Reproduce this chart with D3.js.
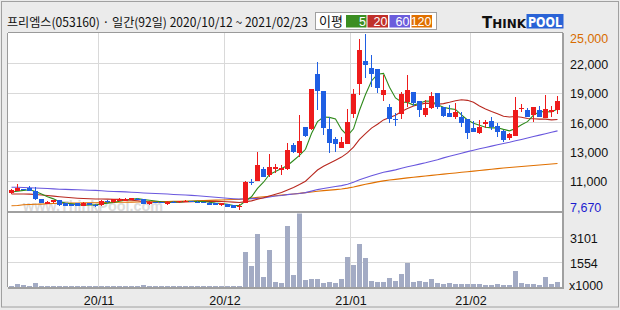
<!DOCTYPE html>
<html><head><meta charset="utf-8">
<script src="https://cdn.jsdelivr.net/npm/d3@7"></script>
<style>body{margin:0;background:#fff}svg{display:block}</style>
</head><body>
<svg id="c" width="620" height="310"></svg>
<script>
const dates = [
"2020-10-12","2020-10-13","2020-10-14","2020-10-15","2020-10-16","2020-10-19","2020-10-20","2020-10-21","2020-10-22","2020-10-23","2020-10-26","2020-10-27","2020-10-28","2020-10-29","2020-10-30",
"2020-11-02","2020-11-03","2020-11-04","2020-11-05","2020-11-06","2020-11-09","2020-11-10","2020-11-11","2020-11-12","2020-11-13","2020-11-16","2020-11-17","2020-11-18","2020-11-19","2020-11-20","2020-11-23","2020-11-24","2020-11-25","2020-11-26","2020-11-27","2020-11-30",
"2020-12-01","2020-12-02","2020-12-03","2020-12-04","2020-12-07","2020-12-08","2020-12-09","2020-12-10","2020-12-11","2020-12-14","2020-12-15","2020-12-16","2020-12-17","2020-12-18","2020-12-21","2020-12-22","2020-12-23","2020-12-24","2020-12-28","2020-12-29","2020-12-30",
"2021-01-04","2021-01-05","2021-01-06","2021-01-07","2021-01-08","2021-01-11","2021-01-12","2021-01-13","2021-01-14","2021-01-15","2021-01-18","2021-01-19","2021-01-20","2021-01-21","2021-01-22","2021-01-25","2021-01-26","2021-01-27","2021-01-28","2021-01-29",
"2021-02-01","2021-02-02","2021-02-03","2021-02-04","2021-02-05","2021-02-08","2021-02-09","2021-02-10","2021-02-15","2021-02-16","2021-02-17","2021-02-18","2021-02-19","2021-02-22","2021-02-23"];

const open  = [9310,9573,9720,9803,9573,8753,8260,8425,8654,8326,8260,8326,8064,8360,8140,8129,8589,8425,8589,8600,8654,8800,8720,8228,8430,8420,8228,8500,8425,8580,8560,8500,8450,8392,8326,8129,8228,8162,8030,8390,10440,10555,11706,11116,11676,11608,11706,14070,13300,15810,15616,21061,19417,15645,14631,13745,14168,17122,20077,22341,21622,21524,18993,17782,16660,17122,18337,19260,18403,17024,17746,19160,17844,17250,16859,16859,16600,15711,15219,16167,16433,15941,15449,14792,14988,17730,17516,17024,17516,16760,17290,17516];
const high  = [9700,10230,9770,10033,9900,8786,8520,8700,8690,8360,8300,8350,8420,8400,8260,8620,8620,8750,8820,8820,8880,8880,8760,8520,8490,8480,8520,8560,8600,8640,8600,8560,8500,8430,8360,8360,8260,8200,8260,10500,10700,13410,11874,13184,12199,12100,14238,14238,17024,15843,19584,22272,19417,16859,14828,14888,17585,19584,24508,25000,22932,21524,20963,18108,17191,19260,20963,19260,18403,18501,19318,19160,17844,18010,18239,17290,16600,16433,16532,16532,16800,16207,15547,15281,18826,18076,17680,17782,17910,18993,17940,18925];
const low   = [9280,9540,9640,9540,8700,8360,8230,8400,8100,8064,8030,8030,8040,8150,7932,8100,8400,8400,8560,8580,8620,8720,8230,8200,8380,8370,8200,8450,8400,8540,8450,8420,8380,8130,8170,8100,7970,7860,7670,8330,10100,10500,10890,10948,11283,11116,11608,13312,12900,14888,15500,17516,15055,13312,13410,13745,14168,16700,18993,20638,19810,19220,18403,16266,15941,16630,17782,17940,16800,16800,17615,17615,16859,16859,16600,15872,14660,15380,15153,15711,15547,14828,14398,14562,14988,17290,16800,16366,16800,16700,16859,17122];
const close = [9639,9869,9690,9573,8720,8392,8490,8654,8129,8100,8064,8064,8392,8200,8129,8589,8425,8720,8786,8786,8851,8780,8260,8490,8410,8400,8490,8480,8560,8600,8500,8450,8420,8162,8200,8326,7998,7900,8100,10456,10420,12100,10948,11938,11938,11840,13578,13410,14464,14956,19584,19417,15711,14299,14168,14398,16366,19092,23424,21947,21061,19712,19486,16630,16630,19092,19486,18174,17516,17746,18925,17782,16957,16859,17352,16207,15281,15380,15872,16365,15872,15380,14562,15153,17516,17746,16859,17782,16800,17615,17516,18403];

// volume, unit x1000 shares
const volume = [80,190,120,60,250,60,50,50,60,50,50,50,50,50,50,60,50,50,50,50,50,50,150,50,50,50,50,50,50,50,50,50,50,50,50,50,50,50,60,2180,1290,3290,625,2290,312,250,3800,730,5600,420,520,490,250,290,250,490,1870,1350,2660,1790,355,310,310,540,375,810,1480,310,355,310,490,230,210,230,210,190,190,190,190,120,120,190,120,120,1000,230,170,170,120,625,170,310];

// moving averages: leading values (earlier data not shown)
const ma5Lead  = [9450,9520,9600,9660];
const ma20Lead = [9250,9250,9240,9230,9200,9150,9100,9040,8980,8920,8870,8830,8800,8780,8760,8750,8740,8730,8720];
const ma60  = [9905,9905,9880,9860,9830,9806,9780,9750,9720,9700,9680,9660,9639,9620,9600,9560,9520,9490,9475,9450,9420,9390,9350,9320,9300,9270,9240,9200,9170,9146,9110,9070,9020,8970,8920,8870,8820,8780,8753,8760,8790,8818,8850,8950,9048,9100,9180,9245,9300,9380,9530,9680,9790,9890,9980,10070,10200,10400,10640,10850,11040,11220,11380,11500,11620,11780,11930,12060,12190,12320,12470,12620,12800,12960,13110,13260,13420,13560,13700,13830,13960,14090,14220,14340,14480,14620,14760,14900,15040,15180,15330,15460];
const ma120 = [8093,8120,8180,8210,8230,8250,8280,8310,8330,8340,8350,8360,8370,8380,8390,8400,8410,8420,8430,8440,8450,8460,8470,8480,8490,8500,8510,8520,8530,8540,8560,8580,8600,8620,8640,8660,8680,8700,8720,8780,8840,8910,8970,9030,9080,9130,9190,9250,9310,9380,9450,9520,9580,9630,9680,9740,9820,9930,10070,10200,10320,10440,10540,10620,10690,10760,10830,10900,10960,11020,11080,11140,11200,11260,11320,11380,11440,11500,11560,11620,11680,11740,11800,11850,11900,11950,12000,12050,12100,12150,12200,12250];

const priceTickValues = [25000,22112,19223,16335,13447,10558,7670];
const priceTickLabels = ["25,000","22,000","19,000","16,000","13,000","11,000","7,670"];
const volTickValues = [3101,1554];
const volTickLabels = ["3101","1554"];
const monthTickDates = ["2020-11-02","2020-12-01","2021-01-04","2021-02-01"];
const monthTickLabels = ["20/11","20/12","21/01","21/02"];
const maPeriods = ["5","20","60","120"];

const title = "프리엠스(053160) · 일간(92일) 2020/10/12 ~ 2021/02/23";

// ---------- derived ----------
const ma5 = close.map((c,i)=> i<4 ? ma5Lead[i] : d3.mean(close.slice(i-4,i+1)));
const ma20 = close.map((c,i)=> i<19 ? ma20Lead[i] : d3.mean(close.slice(i-19,i+1)));
const maColors = {"5":"#2f8a1c","20":"#b8281f","60":"#6a58de","120":"#e07000"};
const legendColors = ["#3b8e22","#c0302a","#6b5ddc","#e07000"];

const svg = d3.select("#c");
const L=7.5, R=562.5, T=32.5, MID=212, B=287;

const x = d3.scaleBand().domain(dates).range([8.5, 560.5]);
const y = d3.scaleLinear().domain([7670,25000]).range([210,34]);
const yv = d3.scaleLinear().domain([0,4652]).range([B,212.5]);

svg.append("rect").attr("width",620).attr("height",310).attr("fill","#ebebeb");
svg.append("rect").attr("x",1.5).attr("y",1.5).attr("width",617).attr("height",305.5)
  .attr("fill","none").attr("stroke","#a0a0a0");
svg.append("rect").attr("x",L).attr("y",T).attr("width",R-L).attr("height",B-T).attr("fill","#fff");

const g = svg.append("g").attr("shape-rendering","crispEdges");
// grid
priceTickValues.slice(1,-1).forEach(v=>{
  g.append("line").attr("x1",L).attr("x2",R).attr("y1",Math.round(y(v))+0.5).attr("y2",Math.round(y(v))+0.5).attr("stroke","#d9d9d9");
});
volTickValues.forEach(v=>{
  g.append("line").attr("x1",L).attr("x2",R).attr("y1",Math.round(yv(v))+0.5).attr("y2",Math.round(yv(v))+0.5).attr("stroke","#d9d9d9");
});
monthTickDates.forEach(d=>{
  g.append("line").attr("x1",x(d)).attr("x2",x(d)).attr("y1",T).attr("y2",B).attr("stroke","#d9d9d9");
});

// watermark
svg.append("text").attr("x",23).attr("y",211).attr("font-family","Liberation Sans, Arial").attr("font-weight","bold")
  .attr("font-size",15).attr("fill","#dcdcdc").attr("textLength",140).attr("lengthAdjust","spacingAndGlyphs").text("www.ThinkPool.com");

// clip paths
svg.append("clipPath").attr("id","pc").append("rect").attr("x",L).attr("y",T).attr("width",R-L).attr("height",MID-T);
svg.append("clipPath").attr("id","vc").append("rect").attr("x",L).attr("y",213.5).attr("width",R-L).attr("height",B-213.5);

// volume bars
svg.append("g").attr("clip-path","url(#vc)").attr("shape-rendering","crispEdges")
  .selectAll("rect").data(volume).join("rect")
  .attr("x",(v,i)=>x(dates[i])+0.5).attr("width",5)
  .attr("y",v=>Math.round(yv(v))).attr("height",v=>Math.max(1,B-Math.round(yv(v))))
  .attr("fill","#a3abc4");

// MA lines
const pg = svg.append("g").attr("clip-path","url(#pc)");
const line = d3.line().x((d,i)=>x(dates[i])+3).y(d=>y(d));
[["120",ma120],["60",ma60],["20",ma20],["5",ma5]].forEach(([p,s])=>{
  pg.append("path").attr("d",line(s)).attr("fill","none").attr("stroke",maColors[p]).attr("stroke-width",1.1);
});

// candles
const cg = pg.append("g").attr("shape-rendering","crispEdges");
dates.forEach((d,i)=>{
  const up = close[i] >= open[i];
  const col = up ? "#ee1b1b" : "#1f5fe3";
  const cx = x(d)+3;
  cg.append("line").attr("x1",cx).attr("x2",cx).attr("y1",y(high[i])).attr("y2",y(low[i])).attr("stroke",col);
  const top = Math.round(y(Math.max(open[i],close[i])));
  const bot = Math.round(y(Math.min(open[i],close[i])));
  cg.append("rect").attr("x",x(d)+0.5).attr("width",5).attr("y",top).attr("height",Math.max(1,bot-top)).attr("fill",col);
});

// frame lines
const fr = svg.append("g").attr("shape-rendering","crispEdges");
fr.append("line").attr("x1",L).attr("x2",L).attr("y1",T).attr("y2",B).attr("stroke","#9a9a9a");
fr.append("line").attr("x1",L).attr("x2",R).attr("y1",T).attr("y2",T).attr("stroke","#9a9a9a");
fr.append("line").attr("x1",R).attr("x2",R).attr("y1",T).attr("y2",B+1).attr("stroke","#a0a0a0").attr("stroke-width",2);
fr.append("line").attr("x1",L).attr("x2",R).attr("y1",MID).attr("y2",MID).attr("stroke","#a0a0a0").attr("stroke-width",2);
fr.append("line").attr("x1",L).attr("x2",R+1).attr("y1",B+0.5).attr("y2",B+0.5).attr("stroke","#a0a0a0").attr("stroke-width",2);

// right labels
const lf = "Liberation Sans, Arial, sans-serif";
priceTickValues.forEach((v,i)=>{
  const c = Math.min(Math.max(y(v)+1,38.5),207.5);
  svg.append("text").attr("x",570).attr("y",c+4.5).attr("font-family",lf).attr("font-size",12.5)
    .attr("fill", i===0 ? "#d86c00" : (i===priceTickValues.length-1 ? "#1c1ccf" : "#111")).text(priceTickLabels[i]);
});
volTickValues.forEach((v,i)=>{
  svg.append("text").attr("x",570).attr("y",yv(v)+5.5).attr("font-family",lf).attr("font-size",12.5).attr("fill","#111").text(volTickLabels[i]);
});
svg.append("text").attr("x",569).attr("y",289.5).attr("font-family",lf).attr("font-size",12.5).attr("fill","#111").text("x1000");

monthTickDates.forEach((d,i)=>{
  svg.append("text").attr("x",x(d)+0.5).attr("y",305).attr("text-anchor","middle").attr("font-family",lf).attr("font-size",12.5).attr("fill","#111").text(monthTickLabels[i]);
});

// header
const kf = "Noto Sans CJK KR, sans-serif";
svg.append("text").attr("x",7).attr("y",27).attr("font-family",kf).attr("font-size",12.5).attr("fill","#111")
  .attr("textLength",301).attr("lengthAdjust","spacingAndGlyphs").text(title);

svg.append("rect").attr("x",315.5).attr("y",12.5).attr("width",121).attr("height",17).attr("fill","#fff").attr("stroke","#a0a0a0");
svg.append("text").attr("x",319).attr("y",26).attr("font-family",kf).attr("font-size",13).attr("fill","#111").text("이평");
const boxX = [346,367.5,389.5,411.5];
maPeriods.forEach((p,i)=>{
  svg.append("rect").attr("x",boxX[i]).attr("y",15).attr("width",20.5).attr("height",12.5).attr("fill",legendColors[i]);
  svg.append("text").attr("x",boxX[i]+20).attr("y",26).attr("text-anchor","end").attr("font-family",lf).attr("font-size",12.5).attr("fill","#fff").text(p);
});

// logo
const logo = svg.append("text").attr("x",482).attr("y",27.5).attr("font-family","DejaVu Sans, sans-serif").attr("font-weight","bold").attr("fill","#111")
  .attr("textLength",44).attr("lengthAdjust","spacingAndGlyphs");
logo.append("tspan").attr("font-size",15).text("T");
logo.append("tspan").attr("font-size",12).text("HINK");
svg.append("rect").attr("x",526.5).attr("y",14).attr("width",37).attr("height",14.5).attr("fill","#2a63d6");
svg.append("text").attr("x",545).attr("y",27).attr("text-anchor","middle").attr("font-family","DejaVu Sans, sans-serif").attr("font-weight","bold").attr("font-size",13.5).attr("fill","#fff")
  .attr("textLength",34).attr("lengthAdjust","spacingAndGlyphs").text("POOL");
</script>
</body></html>
